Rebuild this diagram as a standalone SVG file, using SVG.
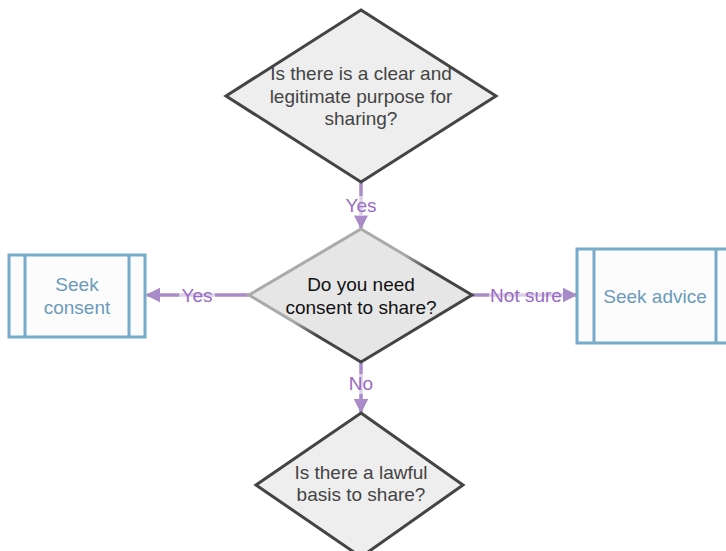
<svg xmlns="http://www.w3.org/2000/svg" width="726" height="551" viewBox="0 0 726 551">
<style>
.dia{fill:#eeeeee;stroke:#444444;stroke-width:3;}
.box{fill:#fcfcfd;stroke:#78abc9;stroke-width:3;}
.t{font-family:"Liberation Sans",Arial,sans-serif;font-size:19px;text-anchor:middle;fill:#444444;}
.tb{font-family:"Liberation Sans",Arial,sans-serif;font-size:19px;text-anchor:middle;fill:#111111;}
.tbox{font-family:"Liberation Sans",Arial,sans-serif;font-size:19px;text-anchor:middle;fill:#6b9bb8;}
.edge{stroke:#a98bc9;stroke-width:3.5;fill:none;}
.lbl{font-family:"Liberation Sans",Arial,sans-serif;font-size:19px;text-anchor:middle;fill:#9a6cc2;}
.lblbg{fill:#ffffff;opacity:0.6;}
</style>
<defs>
<marker id="arr" viewBox="0 0 10 10" refX="9" refY="5" markerWidth="4.2" markerHeight="4.2" orient="auto" markerUnits="strokeWidth">
<path d="M0,0 L10,5 L0,10 z" fill="#a98bc9"/>
</marker>
<linearGradient id="g2" x1="0" y1="0" x2="1" y2="1">
<stop offset="0.45" stop-color="#aaaaaa"/>
<stop offset="0.55" stop-color="#444444"/>
</linearGradient>
</defs>
<g id="connectors">
<path class="edge" d="M361,182 L361,228" marker-end="url(#arr)"/>
<path class="edge" d="M249,295 L147,295" marker-end="url(#arr)"/>
<path class="edge" d="M472,295 L576,295" marker-end="url(#arr)"/>
<path class="edge" d="M361,362 L361,412" marker-end="url(#arr)"/>
<rect class="lblbg" x="343" y="196" width="36" height="20"/>
<text class="lbl" x="361" y="212">Yes</text>
<rect class="lblbg" x="179" y="286" width="36" height="20"/>
<text class="lbl" x="197" y="302">Yes</text>
<rect class="lblbg" x="489" y="286" width="74" height="20"/>
<text class="lbl" x="526" y="302">Not sure</text>
<rect class="lblbg" x="347" y="374" width="28" height="20"/>
<text class="lbl" x="361" y="390">No</text>
</g>
<g id="n1">
<polygon class="dia" points="361,10 496,96 361,182 226,96"/>
<text class="t" x="361" y="80">Is there is a clear and</text>
<text class="t" x="361" y="103">legitimate purpose for</text>
<text class="t" x="361" y="125">sharing?</text>
</g>
<g id="n2">
<polygon points="361,229 472,295 361,362 249,295" fill="#e6e6e6" stroke="url(#g2)" stroke-width="3"/>
<text class="tb" x="361" y="291">Do you need</text>
<text class="tb" x="361" y="314">consent to share?</text>
</g>
<g id="n3">
<rect class="box" x="9" y="255" width="136" height="82"/>
<line class="box" x1="25" y1="255" x2="25" y2="337"/>
<line class="box" x1="129" y1="255" x2="129" y2="337"/>
<text class="tbox" x="77" y="291">Seek</text>
<text class="tbox" x="77" y="314">consent</text>
</g>
<g id="n4">
<rect class="box" x="577" y="249" width="156" height="94"/>
<line class="box" x1="594" y1="249" x2="594" y2="343"/>
<line class="box" x1="716" y1="249" x2="716" y2="343"/>
<text class="tbox" x="655" y="303">Seek advice</text>
</g>
<g id="n5">
<polygon class="dia" points="361,413 463,485 361,557 256,485"/>
<text class="t" x="361" y="479">Is there a lawful</text>
<text class="t" x="361" y="501">basis to share?</text>
</g>
</svg>
